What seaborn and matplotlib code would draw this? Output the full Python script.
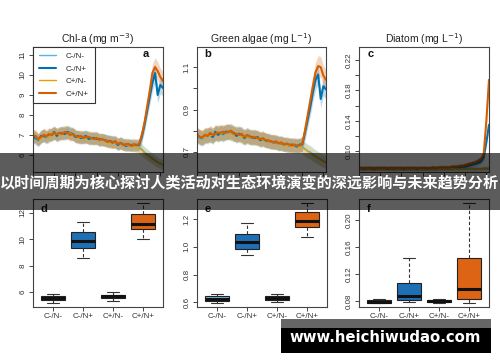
import matplotlib
matplotlib.use('Agg')
import matplotlib.pyplot as plt
from matplotlib.patches import Rectangle
import numpy as np
import seaborn as sns

treatments = ['C-/N-', 'C-/N+', 'C+/N-', 'C+/N+']
line_colors = ['#56B4E9', '#0072B2', '#E69F00', '#D55E00']
box_colors = ['#6fb6e0', '#1f6fb4', '#e6a52a', '#dc6414']
line_widths = [1.0, 1.5, 1.0, 1.5]

# time index of samples (top row)
days = np.arange(50)

chla_cmnm = [6.95, 6.80, 6.70, 6.90, 7.00, 6.85, 6.95, 7.05, 7.10, 7.00,
             7.05, 7.15, 7.10, 7.20, 7.05, 7.10, 6.95, 6.90, 6.85, 6.95,
             6.90, 6.85, 6.80, 6.90, 6.85, 6.75, 6.80, 6.70, 6.75, 6.65,
             6.70, 6.60, 6.55, 6.65, 6.50, 6.55, 6.45, 6.55, 6.50, 6.45,
             6.40, 6.30, 6.15, 6.05, 5.95, 5.85, 5.75, 5.65, 5.60, 5.50]
chla_cmnp = [6.90, 6.85, 6.75, 6.95, 6.95, 6.90, 7.00, 7.00, 7.15, 6.95,
             7.10, 7.10, 7.05, 7.15, 7.10, 7.05, 6.90, 6.95, 6.85, 6.90,
             6.95, 6.80, 6.85, 6.85, 6.80, 6.80, 6.75, 6.75, 6.70, 6.70,
             6.65, 6.65, 6.50, 6.60, 6.55, 6.45, 6.50, 6.50, 6.45, 6.50,
             6.50, 6.90, 7.50, 8.20, 8.90, 9.60, 10.10, 9.00, 9.50, 9.35]
chla_cpnm = [7.00, 6.90, 6.75, 6.85, 7.05, 6.90, 6.90, 7.10, 7.05, 7.05,
             7.00, 7.10, 7.15, 7.10, 7.10, 7.00, 7.00, 6.85, 6.90, 6.90,
             6.85, 6.90, 6.85, 6.80, 6.90, 6.70, 6.75, 6.75, 6.70, 6.60,
             6.65, 6.60, 6.60, 6.55, 6.55, 6.50, 6.50, 6.45, 6.45, 6.40,
             6.35, 6.25, 6.10, 6.00, 5.90, 5.80, 5.70, 5.62, 5.55, 5.48]
chla_cpnp = [6.95, 6.95, 6.80, 6.90, 7.00, 6.95, 7.05, 7.00, 7.10, 7.05,
             7.10, 7.05, 7.15, 7.10, 7.00, 7.05, 6.95, 6.90, 6.95, 6.85,
             6.90, 6.90, 6.85, 6.80, 6.85, 6.75, 6.80, 6.75, 6.65, 6.70,
             6.60, 6.70, 6.55, 6.60, 6.50, 6.55, 6.55, 6.45, 6.55, 6.50,
             6.55, 7.00, 7.60, 8.40, 9.20, 10.10, 10.40, 10.20, 9.90, 9.70]

green_cmnm = [0.775, 0.765, 0.760, 0.780, 0.770, 0.785, 0.775, 0.790, 0.785, 0.795,
              0.780, 0.800, 0.790, 0.795, 0.785, 0.780, 0.790, 0.775, 0.770, 0.780,
              0.765, 0.775, 0.770, 0.765, 0.760, 0.765, 0.750, 0.755, 0.745, 0.750,
              0.740, 0.745, 0.735, 0.740, 0.730, 0.735, 0.730, 0.725, 0.735, 0.730,
              0.725, 0.715, 0.705, 0.700, 0.690, 0.680, 0.672, 0.665, 0.658, 0.650]
green_cmnp = [0.780, 0.770, 0.765, 0.775, 0.780, 0.780, 0.770, 0.795, 0.780, 0.790,
              0.785, 0.795, 0.795, 0.790, 0.790, 0.775, 0.785, 0.780, 0.765, 0.775,
              0.770, 0.770, 0.765, 0.770, 0.755, 0.760, 0.755, 0.750, 0.750, 0.745,
              0.745, 0.740, 0.740, 0.735, 0.735, 0.730, 0.735, 0.730, 0.725, 0.735,
              0.735, 0.790, 0.850, 0.910, 0.980, 1.040, 1.065, 0.950, 1.010, 0.995]
green_cpnm = [0.770, 0.775, 0.765, 0.770, 0.785, 0.775, 0.780, 0.785, 0.795, 0.785,
              0.790, 0.790, 0.800, 0.785, 0.780, 0.790, 0.780, 0.770, 0.775, 0.770,
              0.770, 0.765, 0.775, 0.760, 0.765, 0.755, 0.760, 0.750, 0.745, 0.750,
              0.745, 0.735, 0.740, 0.735, 0.730, 0.730, 0.725, 0.730, 0.730, 0.725,
              0.720, 0.712, 0.702, 0.695, 0.686, 0.678, 0.670, 0.662, 0.655, 0.648]
green_cpnp = [0.785, 0.770, 0.770, 0.780, 0.775, 0.790, 0.780, 0.785, 0.790, 0.790,
              0.795, 0.790, 0.795, 0.800, 0.785, 0.785, 0.780, 0.785, 0.770, 0.780,
              0.775, 0.765, 0.770, 0.765, 0.760, 0.765, 0.755, 0.755, 0.750, 0.745,
              0.750, 0.740, 0.745, 0.735, 0.740, 0.735, 0.730, 0.735, 0.730, 0.730,
              0.740, 0.800, 0.870, 0.940, 1.010, 1.075, 1.105, 1.100, 1.060, 1.040]

diatom_cmnm = [0.078, 0.077, 0.078, 0.078, 0.077, 0.078, 0.078, 0.077, 0.078, 0.078,
               0.077, 0.078, 0.078, 0.078, 0.077, 0.078, 0.077, 0.078, 0.078, 0.077,
               0.078, 0.077, 0.077, 0.078, 0.077, 0.077, 0.078, 0.077, 0.077, 0.077,
               0.078, 0.077, 0.077, 0.077, 0.078, 0.077, 0.077, 0.077, 0.077, 0.077,
               0.077, 0.077, 0.077, 0.077, 0.077, 0.077, 0.077, 0.077, 0.077, 0.077]
diatom_cmnp = [0.078, 0.078, 0.077, 0.078, 0.078, 0.078, 0.077, 0.078, 0.078, 0.078,
               0.078, 0.077, 0.078, 0.078, 0.078, 0.078, 0.078, 0.077, 0.078, 0.078,
               0.078, 0.078, 0.077, 0.078, 0.078, 0.078, 0.077, 0.078, 0.078, 0.078,
               0.078, 0.078, 0.078, 0.078, 0.078, 0.078, 0.079, 0.079, 0.079, 0.080,
               0.080, 0.081, 0.082, 0.083, 0.084, 0.085, 0.087, 0.092, 0.112, 0.135]
diatom_cpnm = [0.077, 0.078, 0.078, 0.077, 0.078, 0.077, 0.078, 0.078, 0.077, 0.078,
               0.078, 0.078, 0.077, 0.078, 0.078, 0.077, 0.078, 0.078, 0.077, 0.078,
               0.077, 0.078, 0.078, 0.077, 0.077, 0.078, 0.077, 0.077, 0.078, 0.077,
               0.077, 0.078, 0.077, 0.077, 0.077, 0.078, 0.077, 0.077, 0.077, 0.077,
               0.077, 0.077, 0.077, 0.077, 0.077, 0.077, 0.077, 0.078, 0.078, 0.078]
diatom_cpnp = [0.078, 0.078, 0.078, 0.078, 0.078, 0.077, 0.078, 0.078, 0.078, 0.078,
               0.078, 0.078, 0.078, 0.077, 0.078, 0.078, 0.078, 0.078, 0.078, 0.078,
               0.078, 0.078, 0.078, 0.078, 0.078, 0.078, 0.078, 0.078, 0.079, 0.078,
               0.079, 0.079, 0.079, 0.079, 0.079, 0.080, 0.080, 0.080, 0.081, 0.081,
               0.082, 0.083, 0.084, 0.085, 0.086, 0.088, 0.090, 0.096, 0.140, 0.194]

# relative standard error used for the shaded ribbons
ribbon_rel_se = [0.045, 0.045, 0.04]

# box statistics: lower whisker, Q1, median, Q3, upper whisker
d_lo = [5.17, 8.57, 5.30, 10.03]
d_q1 = [5.40, 9.37, 5.55, 10.79]
d_med = [5.55, 9.88, 5.70, 11.17]
d_q3 = [5.70, 10.54, 5.80, 11.90]
d_hi = [5.85, 11.34, 5.98, 12.73]

e_lo = [0.593, 0.940, 0.600, 1.070]
e_q1 = [0.609, 0.985, 0.615, 1.140]
e_med = [0.626, 1.037, 0.630, 1.185]
e_q3 = [0.643, 1.090, 0.645, 1.250]
e_hi = [0.657, 1.173, 0.660, 1.315]

f_lo = [0.0765, 0.0790, 0.0775, 0.0775]
f_q1 = [0.0775, 0.0815, 0.0790, 0.0825]
f_med = [0.0790, 0.0880, 0.0800, 0.0973]
f_q3 = [0.0810, 0.1070, 0.0810, 0.1440]
f_hi = [0.0834, 0.1440, 0.0825, 0.2247]

top_titles = ['Chl-a (mg m$^{-3}$)', 'Green algae (mg L$^{-1}$)', 'Diatom (mg L$^{-1}$)']
banner_text = '以时间周期为核心探讨人类活动对生态环境演变的深远影响与未来趋势分析'
watermark_text = 'www.heichiwudao.com'

sns.set_style('white')
plt.rcParams['font.family'] = ['Liberation Sans', 'DejaVu Sans']
plt.rcParams['axes.edgecolor'] = '#444444'
plt.rcParams['axes.linewidth'] = 0.8

fig = plt.figure(figsize=(5, 3.62), dpi=100)
W, H = 500, 362


def px_axes(x0, y0, x1, y1):
    return fig.add_axes([x0 / W, 1 - y1 / H, (x1 - x0) / W, (y1 - y0) / H])


def style_axes(ax, yticks, ylabels):
    ax.set_yticks(yticks)
    ax.set_yticklabels(ylabels)
    ax.tick_params(axis='both', direction='out', length=3, width=0.7,
                   color='#444444', labelsize=5.8, labelcolor='#333333', pad=1.5,
                   left=True, bottom=True)
    for lab in ax.get_yticklabels():
        lab.set_rotation(90)
        lab.set_va('center')
    for sp in ax.spines.values():
        sp.set_color('#444444')
        sp.set_linewidth(0.8)


top_series = [
    [chla_cmnm, chla_cmnp, chla_cpnm, chla_cpnp],
    [green_cmnm, green_cmnp, green_cpnm, green_cpnp],
    [diatom_cmnm, diatom_cmnp, diatom_cpnm, diatom_cpnp],
]
top_pos = [(33, 47, 163, 172), (197, 47, 326, 172), (359, 47, 489, 172)]
top_ylim = [(5.15, 11.4), (0.605, 1.195), (0.073, 0.237)]
top_yticks = [[6, 7, 8, 9, 10, 11],
              [0.7, 0.8, 0.9, 1.0, 1.1],
              [0.10, 0.12, 0.14, 0.16, 0.18, 0.20, 0.22]]
top_ylabels = [['6', '7', '8', '9', '10', '11'],
               ['0.7', '', '0.9', '', '1.1'],
               ['0.10', '', '0.14', '', '0.18', '', '0.22']]
top_letters = ['a', 'b', 'c']
letter_x = [0.84, 0.06, 0.07]

for k in range(3):
    ax = px_axes(*top_pos[k])
    for name, vals, c, lw in zip(treatments, top_series[k], line_colors, line_widths):
        vals = np.array(vals)
        se = vals * ribbon_rel_se[k]
        ax.fill_between(days, vals - se, vals + se, color=c, alpha=0.25, lw=0)
        sns.lineplot(x=days, y=vals, ax=ax, color=c, lw=lw,
                     label=name if k == 0 else None, legend=(k == 0))
    ax.set_xlim(0, 49)
    ax.set_ylim(*top_ylim[k])
    ax.set_xticks(days[::8])
    ax.set_xticklabels([])
    ax.set_xlabel('')
    ax.set_ylabel('')
    style_axes(ax, top_yticks[k], top_ylabels[k])
    ax.set_title(top_titles[k], fontsize=7.5, pad=3, color='#222222')
    ax.text(letter_x[k], 0.92, top_letters[k], transform=ax.transAxes,
            fontsize=8, fontweight='bold', color='#111111')
    if k == 0:
        leg = ax.legend(loc='upper left', fontsize=5.8, frameon=True, fancybox=False,
                        edgecolor='#333333', framealpha=1, borderaxespad=0,
                        handlelength=2.2, handletextpad=1.2, labelspacing=0.6,
                        borderpad=0.7)
        leg.get_frame().set_linewidth(0.8)

box_stats = [
    (d_lo, d_q1, d_med, d_q3, d_hi),
    (e_lo, e_q1, e_med, e_q3, e_hi),
    (f_lo, f_q1, f_med, f_q3, f_hi),
]
bot_pos = [(33, 199, 163, 307), (197, 199, 327, 307), (359, 199, 489, 307)]
bot_ylim = [(4.86, 13.06), (0.566, 1.344), (0.071, 0.231)]
bot_yticks = [[6, 8, 10, 12], [0.6, 0.8, 1.0, 1.2], [0.08, 0.12, 0.16, 0.20]]
bot_ylabels = [['6', '8', '10', '12'], ['0.6', '0.8', '1.0', '1.2'],
               ['0.08', '0.12', '0.16', '0.20']]
bot_letters = ['d', 'e', 'f']

for k in range(3):
    ax = px_axes(*bot_pos[k])
    lo, q1, med, q3, hi = box_stats[k]
    stats = [dict(whislo=lo[i], q1=q1[i], med=med[i], q3=q3[i], whishi=hi[i],
                  fliers=[], label=treatments[i]) for i in range(4)]
    bp = ax.bxp(stats, positions=[1, 2, 3, 4], widths=0.8, patch_artist=True,
                showfliers=False,
                boxprops=dict(edgecolor='#222222', linewidth=0.8),
                medianprops=dict(color='#111111', linewidth=2.2),
                whiskerprops=dict(color='#333333', linewidth=0.8, linestyle=(0, (3, 2))),
                capprops=dict(color='#333333', linewidth=0.8))
    for patch, c in zip(bp['boxes'], box_colors):
        patch.set_facecolor(c)
    for cap in bp['caps']:
        x0, x1 = cap.get_xdata()
        mid = (x0 + x1) / 2
        cap.set_xdata([mid - 0.2, mid + 0.2])
    ax.set_xlim(0.34, 4.66)
    ax.set_ylim(*bot_ylim[k])
    ax.set_xticks([1, 2, 3, 4])
    ax.set_xticklabels(treatments)
    style_axes(ax, bot_yticks[k], bot_ylabels[k])
    ax.text(0.06, 0.88, bot_letters[k], transform=ax.transAxes,
            fontsize=8, fontweight='bold', color='#111111')

# dark banner across the middle
fig.patches.append(Rectangle((0, 1 - 210 / H), 1, 57 / H, transform=fig.transFigure,
                             facecolor='black', alpha=0.64, edgecolor='none', zorder=10))
fig.text(0.499, 1 - 183.5 / H, banner_text, ha='center', va='center', color='white',
         fontsize=10.9, fontweight='bold', family=['Noto Sans CJK SC', 'DejaVu Sans'],
         zorder=11)

# watermark box bottom right
fig.patches.append(Rectangle((281 / W, 1 - 328 / H), 210 / W, 9 / H, transform=fig.transFigure,
                             facecolor='black', alpha=0.6, edgecolor='none', zorder=10))
fig.patches.append(Rectangle((281 / W, 1 - 353 / H), 210 / W, 25 / H, transform=fig.transFigure,
                             facecolor='black', edgecolor='none', zorder=10))
fig.text(385 / W, 1 - 337.5 / H, watermark_text, ha='center', va='center', color='white',
         fontsize=10.7, fontweight='bold', family=['DejaVu Sans'], zorder=11)

fig.savefig('out.png', dpi=100)
